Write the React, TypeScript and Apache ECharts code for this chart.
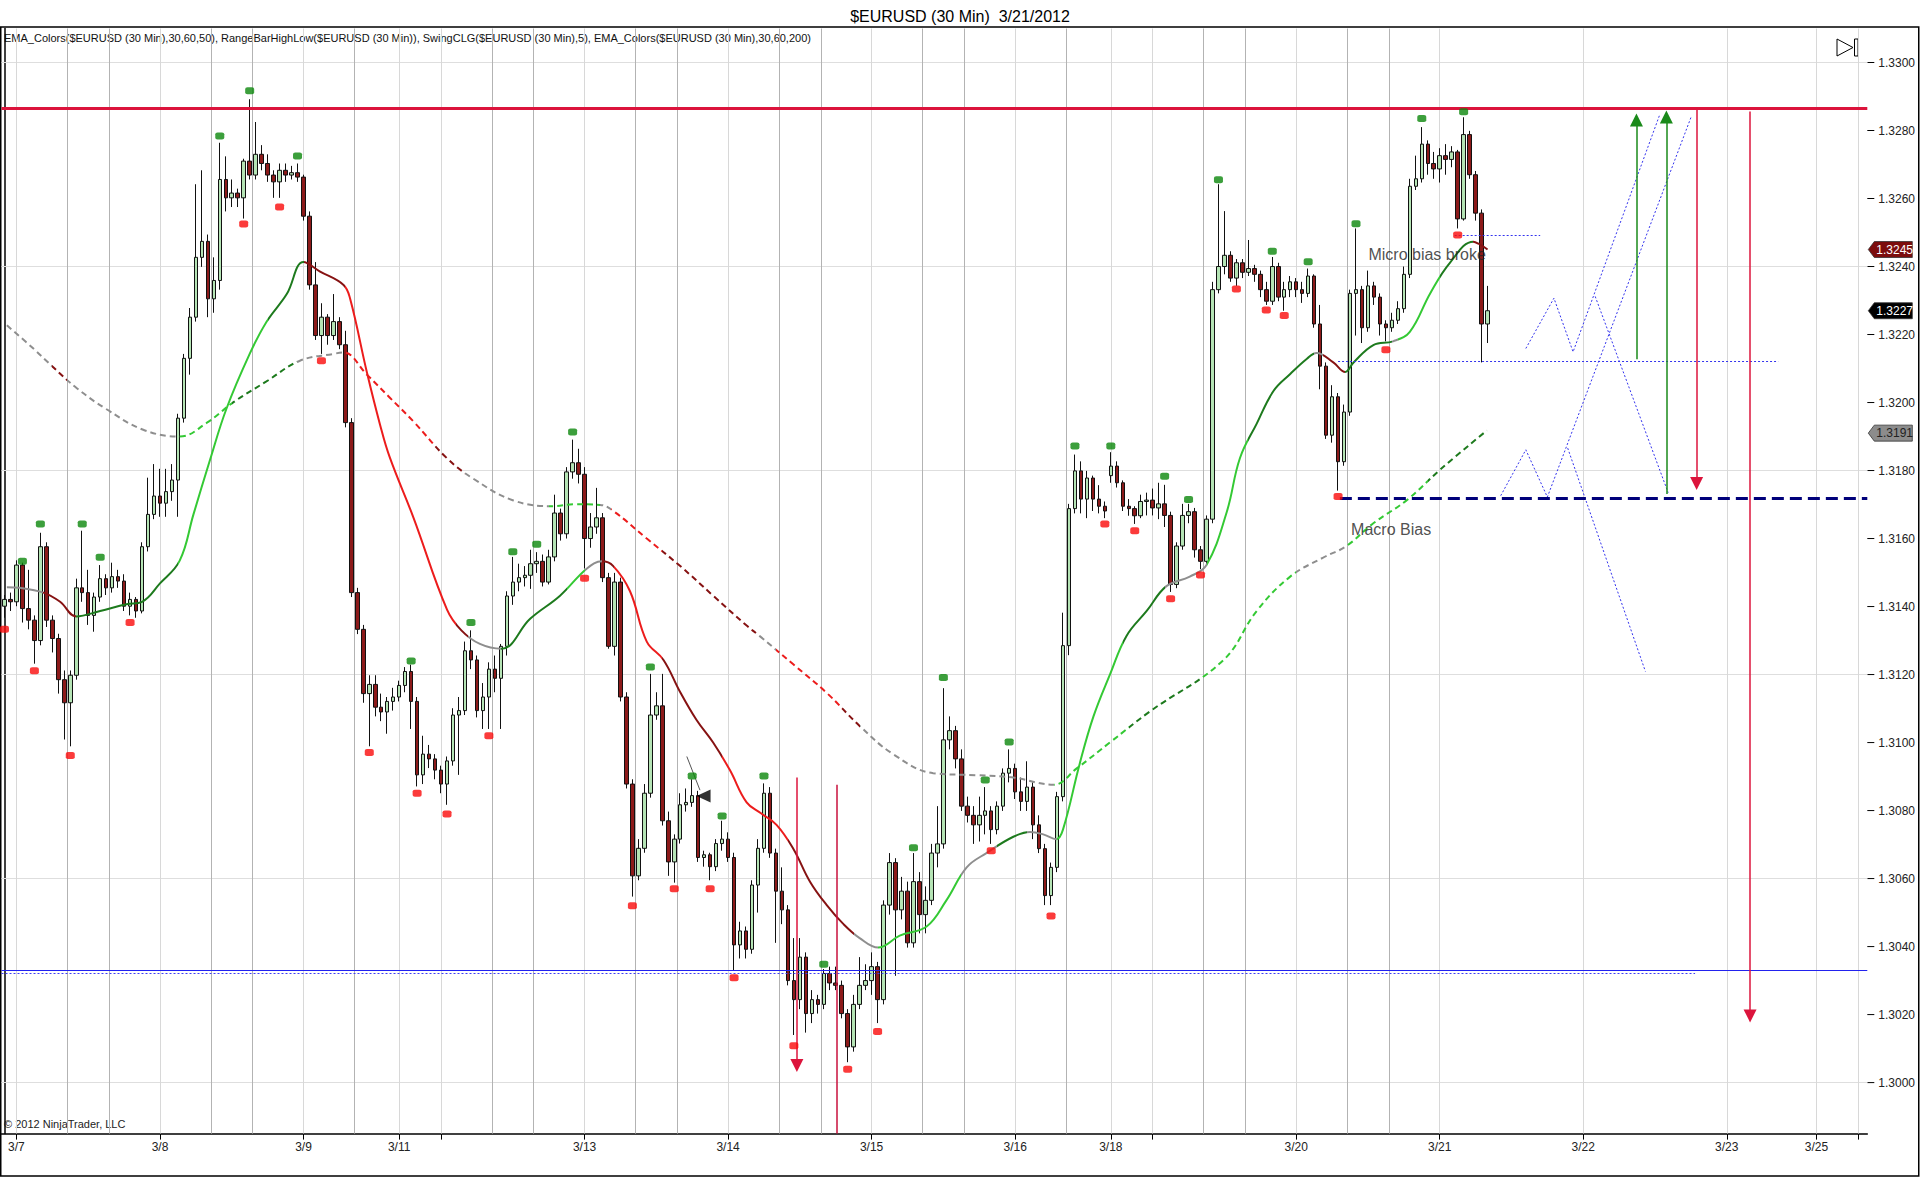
import React, { useEffect, useRef } from 'react';
import * as echarts from 'echarts';

const FONT = '"Liberation Sans", Arial, sans-serif';

// one slot per hour, 3/6 22:00 up to the empty future area on the right
const SLOT_COUNT = 312;

// [slot, label] for the day ticks on the time axis
const dayTicks: [number, string][] = [
  [2, '3/7'], [26, '3/8'], [50, '3/9'], [66, '3/11'], [73, ''], [97, '3/13'], [121, '3/14'],
  [145, '3/15'], [169, '3/16'], [185, '3/18'], [192, ''], [216, '3/20'], [240, '3/21'],
  [264, '3/22'], [288, '3/23'], [303, '3/25'], [310, ''],
];
// session separators inside each trading day
const sessionGrid = [10.5, 17.5, 34.5, 41.5, 58.5, 81.5, 88.5, 105.5, 112.5, 129.5, 136.5, 153.5, 160.5, 177.5, 200.5, 207.5, 224.5, 231.5];

const priceLabels = [1.3, 1.302, 1.304, 1.306, 1.308, 1.31, 1.312, 1.314, 1.316, 1.318, 1.32, 1.322, 1.324, 1.326, 1.328, 1.33];
const priceGrid = [1.3, 1.306, 1.312, 1.318, 1.324, 1.33];

// hourly bars: [open, close, low, high]
const candles = [
  [1.31401, 1.31421, 1.31367, 1.31434], [1.31421, 1.31414, 1.31387, 1.31441], [1.31414, 1.31522, 1.31401, 1.31536],
  [1.31522, 1.31394, 1.31353, 1.31529], [1.31394, 1.3136, 1.31333, 1.31508], [1.3136, 1.313, 1.31232, 1.31374],
  [1.313, 1.31576, 1.31286, 1.31617], [1.31576, 1.3136, 1.3134, 1.31589], [1.3136, 1.31306, 1.31265, 1.31374],
  [1.31306, 1.31185, 1.31144, 1.3132], [1.31185, 1.31117, 1.31009, 1.31212], [1.31117, 1.31198, 1.30989, 1.31212],
  [1.31198, 1.31455, 1.31185, 1.31482], [1.31455, 1.31441, 1.31414, 1.31623], [1.31441, 1.31374, 1.31346, 1.31508],
  [1.31374, 1.31428, 1.31326, 1.31441], [1.31428, 1.31482, 1.31414, 1.31522], [1.31482, 1.31455, 1.31434, 1.31495],
  [1.31455, 1.31488, 1.31441, 1.31529], [1.31488, 1.31475, 1.31455, 1.31508], [1.31475, 1.31401, 1.31387, 1.31495],
  [1.31401, 1.31421, 1.31374, 1.31441], [1.31421, 1.31387, 1.31367, 1.31428], [1.31387, 1.31576, 1.3138, 1.31589],
  [1.31576, 1.31671, 1.31562, 1.31779], [1.31671, 1.31725, 1.31657, 1.31819], [1.31725, 1.31704, 1.31664, 1.31805],
  [1.31704, 1.31738, 1.31664, 1.31805], [1.31738, 1.31772, 1.31711, 1.31819], [1.31772, 1.31954, 1.31664, 1.31967],
  [1.31954, 1.3213, 1.31941, 1.32143], [1.3213, 1.32251, 1.32082, 1.32278], [1.32251, 1.32427, 1.32238, 1.32642],
  [1.32427, 1.32474, 1.32399, 1.32683], [1.32474, 1.32305, 1.32251, 1.32494], [1.32305, 1.32359, 1.32264, 1.32427],
  [1.32359, 1.32656, 1.32332, 1.32764], [1.32656, 1.32602, 1.32562, 1.32724], [1.32602, 1.32616, 1.32575, 1.32656],
  [1.32616, 1.32602, 1.32575, 1.32629], [1.32602, 1.3271, 1.32541, 1.32717], [1.3271, 1.32669, 1.32656, 1.32892],
  [1.32669, 1.3273, 1.32656, 1.32825], [1.3273, 1.32703, 1.32683, 1.32757], [1.32703, 1.32669, 1.32649, 1.3273],
  [1.32669, 1.32649, 1.32602, 1.32683], [1.32649, 1.32683, 1.32602, 1.32703], [1.32683, 1.32669, 1.32649, 1.32703],
  [1.32669, 1.32676, 1.32656, 1.32696], [1.32676, 1.32663, 1.32649, 1.32703], [1.32663, 1.32548, 1.32535, 1.3267],
  [1.32548, 1.32346, 1.32332, 1.32562], [1.32346, 1.32197, 1.32184, 1.32413], [1.32197, 1.32251, 1.32143, 1.32292],
  [1.32251, 1.32197, 1.3217, 1.3226], [1.32197, 1.32238, 1.32184, 1.32319], [1.32238, 1.3217, 1.32157, 1.32251],
  [1.3217, 1.31941, 1.31927, 1.32211], [1.31941, 1.31441, 1.31428, 1.31954], [1.31441, 1.31333, 1.31319, 1.31455],
  [1.31333, 1.31144, 1.31117, 1.31346], [1.31144, 1.31171, 1.30989, 1.31198], [1.31171, 1.31104, 1.31077, 1.31198],
  [1.31104, 1.3109, 1.31063, 1.31144], [1.3109, 1.31121, 1.31026, 1.31134], [1.31121, 1.31134, 1.31094, 1.31161],
  [1.31134, 1.31168, 1.31121, 1.31182], [1.31168, 1.31209, 1.31148, 1.31222], [1.31209, 1.31121, 1.3104, 1.31229],
  [1.31121, 1.30905, 1.30871, 1.31134], [1.30905, 1.30966, 1.30878, 1.3102], [1.30966, 1.30952, 1.30925, 1.30993],
  [1.30952, 1.30919, 1.30892, 1.30966], [1.30919, 1.30878, 1.30851, 1.30932], [1.30878, 1.30946, 1.30817, 1.30959],
  [1.30946, 1.31081, 1.30932, 1.31101], [1.31081, 1.31094, 1.30905, 1.31134], [1.31094, 1.3127, 1.31081, 1.31297],
  [1.3127, 1.31243, 1.31216, 1.3133], [1.31243, 1.31094, 1.31074, 1.31256], [1.31094, 1.31134, 1.3104, 1.31175],
  [1.31134, 1.31216, 1.3104, 1.31236], [1.31216, 1.31189, 1.31148, 1.31256], [1.31189, 1.31283, 1.3104, 1.3129],
  [1.31283, 1.31431, 1.31256, 1.31445], [1.31431, 1.31472, 1.31405, 1.31546], [1.31472, 1.31485, 1.31445, 1.31526],
  [1.31485, 1.31492, 1.31459, 1.31519], [1.31492, 1.31526, 1.31452, 1.31567], [1.31526, 1.31533, 1.31499, 1.3156],
  [1.31533, 1.31472, 1.31459, 1.31553], [1.31472, 1.31546, 1.31465, 1.31567], [1.31546, 1.31675, 1.31533, 1.31729],
  [1.31675, 1.31614, 1.31594, 1.31688], [1.31614, 1.31796, 1.316, 1.3181], [1.31796, 1.31823, 1.31776, 1.31891],
  [1.31823, 1.31789, 1.31762, 1.31864], [1.31789, 1.316, 1.31512, 1.3181], [1.316, 1.31634, 1.31573, 1.31675],
  [1.31634, 1.31661, 1.31614, 1.31749], [1.31661, 1.31485, 1.31472, 1.31675], [1.31485, 1.31283, 1.31276, 1.31499],
  [1.31283, 1.31472, 1.31256, 1.31499], [1.31472, 1.31134, 1.31121, 1.31485], [1.31134, 1.30878, 1.30865, 1.31148],
  [1.30878, 1.30608, 1.30547, 1.30892], [1.30608, 1.30689, 1.30595, 1.30716], [1.30689, 1.30851, 1.30676, 1.30878],
  [1.30851, 1.31081, 1.30838, 1.31202], [1.31081, 1.31108, 1.31067, 1.31148], [1.31108, 1.3077, 1.30756, 1.31202],
  [1.3077, 1.30649, 1.30608, 1.30797], [1.30649, 1.30716, 1.30588, 1.3073], [1.30716, 1.30817, 1.30703, 1.30851],
  [1.30817, 1.30824, 1.30797, 1.30865], [1.30824, 1.30844, 1.30811, 1.30892], [1.30844, 1.30662, 1.30649, 1.30858],
  [1.30662, 1.3067, 1.30635, 1.30682], [1.3067, 1.30635, 1.30595, 1.30676], [1.30635, 1.30703, 1.30622, 1.30716],
  [1.30703, 1.30716, 1.30682, 1.3077], [1.30716, 1.30662, 1.30649, 1.30736], [1.30662, 1.30405, 1.30331, 1.30676],
  [1.30405, 1.30446, 1.30365, 1.30473], [1.30446, 1.30392, 1.30365, 1.30459], [1.30392, 1.30581, 1.30379, 1.30595],
  [1.30581, 1.30689, 1.305, 1.30716], [1.30689, 1.30851, 1.30676, 1.3088], [1.30851, 1.30675, 1.30661, 1.30869],
  [1.30675, 1.30563, 1.30411, 1.30688], [1.30563, 1.30508, 1.30466, 1.30633], [1.30508, 1.303, 1.30286, 1.30522],
  [1.303, 1.30244, 1.3014, 1.30425], [1.30244, 1.30369, 1.30216, 1.30425], [1.30369, 1.30203, 1.30147, 1.30383],
  [1.30203, 1.30244, 1.30175, 1.30272], [1.30244, 1.3023, 1.30203, 1.30258], [1.3023, 1.30321, 1.30216, 1.30334],
  [1.30321, 1.30293, 1.30272, 1.30341], [1.30293, 1.30286, 1.30272, 1.30341], [1.30286, 1.30203, 1.30189, 1.303],
  [1.30203, 1.30105, 1.3006, 1.30216], [1.30105, 1.3023, 1.30091, 1.30258], [1.3023, 1.30286, 1.30216, 1.30369],
  [1.30286, 1.303, 1.30272, 1.30348], [1.303, 1.30341, 1.30258, 1.30383], [1.30341, 1.30244, 1.30175, 1.30355],
  [1.30244, 1.30522, 1.3023, 1.30536], [1.30522, 1.30647, 1.30494, 1.30675], [1.30647, 1.30508, 1.30314, 1.3066],
  [1.30508, 1.30563, 1.3048, 1.30605], [1.30563, 1.30411, 1.30397, 1.30591], [1.30411, 1.30591, 1.30397, 1.30675],
  [1.30591, 1.30494, 1.30439, 1.30619], [1.30494, 1.30536, 1.30439, 1.30577], [1.30536, 1.30675, 1.30522, 1.30702],
  [1.30675, 1.30702, 1.30633, 1.30813], [1.30702, 1.31008, 1.30688, 1.3116], [1.31008, 1.31035, 1.3098, 1.31077],
  [1.31035, 1.30952, 1.30924, 1.31049], [1.30952, 1.30813, 1.30799, 1.3098], [1.30813, 1.30786, 1.30765, 1.30841],
  [1.30786, 1.30758, 1.30702, 1.30813], [1.30758, 1.30786, 1.30709, 1.30841], [1.30786, 1.30799, 1.3073, 1.30869],
  [1.30799, 1.30744, 1.30702, 1.30813], [1.30744, 1.30813, 1.3073, 1.30827], [1.30813, 1.3091, 1.30799, 1.30924],
  [1.3091, 1.30924, 1.30883, 1.3098], [1.30924, 1.30855, 1.30834, 1.30938], [1.30855, 1.30827, 1.30799, 1.30897],
  [1.30827, 1.30869, 1.30799, 1.30945], [1.30869, 1.30758, 1.30716, 1.30883], [1.30758, 1.30688, 1.30675, 1.30786],
  [1.30688, 1.3055, 1.30522, 1.30702], [1.3055, 1.30633, 1.30522, 1.30647], [1.30633, 1.30841, 1.30619, 1.30855],
  [1.30841, 1.31285, 1.30827, 1.31382], [1.31285, 1.31688, 1.31257, 1.31702], [1.31688, 1.31799, 1.31674, 1.31847],
  [1.31799, 1.31716, 1.31674, 1.31827], [1.31716, 1.31778, 1.3166, 1.31799], [1.31778, 1.31716, 1.31681, 1.31785],
  [1.31716, 1.31695, 1.31674, 1.31757], [1.31695, 1.31681, 1.3166, 1.31709], [1.31785, 1.31813, 1.31764, 1.31854],
  [1.31813, 1.31764, 1.3175, 1.31827], [1.31764, 1.31695, 1.31681, 1.31771], [1.31695, 1.31688, 1.31667, 1.31716],
  [1.31688, 1.31667, 1.31643, 1.31695], [1.31667, 1.31709, 1.3166, 1.31729], [1.31709, 1.31713, 1.31668, 1.31735],
  [1.31713, 1.3169, 1.31668, 1.31747], [1.3169, 1.31702, 1.31657, 1.31764], [1.31702, 1.31668, 1.31634, 1.31758],
  [1.31668, 1.31465, 1.31443, 1.31679], [1.31465, 1.31578, 1.31454, 1.31589], [1.31578, 1.31668, 1.31567, 1.31702],
  [1.31668, 1.31679, 1.31645, 1.31702], [1.31679, 1.31567, 1.31544, 1.3169], [1.31567, 1.31533, 1.3151, 1.31578],
  [1.31533, 1.31657, 1.31522, 1.31668], [1.31657, 1.32332, 1.31645, 1.32355], [1.32332, 1.324, 1.32321, 1.32642],
  [1.324, 1.32433, 1.32377, 1.32563], [1.32433, 1.32366, 1.32355, 1.32445], [1.32366, 1.32411, 1.32343, 1.32422],
  [1.32411, 1.32383, 1.32366, 1.32422], [1.32383, 1.32394, 1.32372, 1.32478], [1.32394, 1.32377, 1.32355, 1.32405],
  [1.32377, 1.32332, 1.3231, 1.32388], [1.32332, 1.32298, 1.32287, 1.32355], [1.32298, 1.324, 1.32287, 1.32428],
  [1.324, 1.3231, 1.32298, 1.32411], [1.3231, 1.32332, 1.3227, 1.32355], [1.32332, 1.32355, 1.3231, 1.32372],
  [1.32355, 1.32332, 1.3231, 1.32366], [1.32332, 1.32321, 1.32293, 1.32355], [1.32321, 1.32372, 1.3231, 1.32394],
  [1.32372, 1.32231, 1.3222, 1.32377], [1.32231, 1.32107, 1.32039, 1.32287], [1.32107, 1.31904, 1.31893, 1.32118],
  [1.31904, 1.32017, 1.31882, 1.32051], [1.32017, 1.31826, 1.31741, 1.32028], [1.31826, 1.31972, 1.31814, 1.31994],
  [1.31972, 1.32321, 1.31961, 1.32332], [1.32321, 1.32332, 1.32197, 1.32512], [1.32332, 1.3222, 1.32175, 1.32343],
  [1.3222, 1.32343, 1.32208, 1.32388], [1.32343, 1.3231, 1.32287, 1.32355], [1.3231, 1.32231, 1.32197, 1.32321],
  [1.32231, 1.3222, 1.3218, 1.32242], [1.3222, 1.32242, 1.32208, 1.32264], [1.32242, 1.32276, 1.32231, 1.32298],
  [1.32276, 1.32377, 1.32264, 1.324], [1.32377, 1.32636, 1.32366, 1.32658], [1.32636, 1.32658, 1.32625, 1.32726],
  [1.32658, 1.3276, 1.32647, 1.3281], [1.3276, 1.32703, 1.3267, 1.32771], [1.32703, 1.32687, 1.32658, 1.32737],
  [1.32687, 1.32726, 1.32647, 1.32748], [1.32726, 1.32715, 1.3267, 1.3276], [1.32715, 1.32737, 1.32692, 1.32754],
  [1.32737, 1.3254, 1.32512, 1.32743], [1.3254, 1.32788, 1.32535, 1.32839], [1.32788, 1.3267, 1.32658, 1.32799],
  [1.3267, 1.32557, 1.32535, 1.32681], [1.32557, 1.32231, 1.32118, 1.32568], [1.32231, 1.3227, 1.32175, 1.32343],
];

// EMA(50) and EMA(200): [slot, price]
const ema50 = [
  [0.4, 1.31457], [2.6, 1.31455], [6.5, 1.31441], [9.3, 1.31414], [12, 1.31371], [16, 1.31387], [20.4, 1.31407],
  [23, 1.31414], [26, 1.31468], [29.3, 1.31535], [31.6, 1.31671], [34.4, 1.31833], [37.1, 1.31981], [41, 1.32143],
  [43.8, 1.32237], [47.2, 1.32319], [50, 1.32413], [52.7, 1.32386], [56.7, 1.32346], [57.8, 1.32305], [60.6, 1.32089],
  [62.8, 1.31935], [64.4, 1.3184], [68.4, 1.31661], [74, 1.31391], [76.4, 1.3133], [79.5, 1.3129], [83.1, 1.31276],
  [87.9, 1.31364], [92.9, 1.31432], [97.4, 1.31512], [99.9, 1.31533], [101.8, 1.31519], [104.6, 1.31445],
  [107.4, 1.31297], [110.2, 1.31243], [113, 1.31148], [115.7, 1.31067], [118.5, 1.31], [121.3, 1.30919],
  [124.1, 1.30824], [126.5, 1.30792], [129.1, 1.30758], [131.9, 1.30688], [134.7, 1.30591], [137.5, 1.30522],
  [140.3, 1.30466], [143, 1.30425], [146.1, 1.30397], [149.7, 1.30432], [154.2, 1.30459], [157.5, 1.30536],
  [160.9, 1.30633], [164.2, 1.30675], [168.7, 1.30723], [171.5, 1.30737], [173.7, 1.3073], [175.9, 1.30716],
  [177, 1.30744], [179.8, 1.30938], [182.1, 1.31077], [184.9, 1.31202], [187.6, 1.31313], [191, 1.31387],
  [194.3, 1.3146], [198.2, 1.31488], [201, 1.31522], [204.4, 1.31679], [206.6, 1.31837], [209.4, 1.31938],
  [212.2, 1.32034], [215, 1.32084], [217.8, 1.32129], [219.4, 1.32146], [222.2, 1.32118], [224.2, 1.3209],
  [225.6, 1.32118], [228.9, 1.32169], [232.2, 1.3218], [235, 1.32208], [238.4, 1.32321], [241.7, 1.32411],
  [245.6, 1.32473], [246.5, 1.32467], [248, 1.3245],
];
const ema200 = [
  [0.4, 1.32227], [5, 1.32156], [8.2, 1.32103], [12.1, 1.32042], [17, 1.31981], [23.2, 1.3192], [29.3, 1.319],
  [33.8, 1.3194], [38.3, 1.32001], [43.8, 1.32062], [49.4, 1.32123], [55, 1.32143], [56.7, 1.32147], [60.6, 1.32082],
  [64.4, 1.32015], [68.4, 1.31944], [74, 1.31836], [78.4, 1.31776], [85.1, 1.31712], [91.8, 1.31695], [95.1, 1.31701],
  [99.6, 1.31699], [101.8, 1.31681], [107.4, 1.316], [113, 1.31519], [118.5, 1.31432], [124.1, 1.31344],
  [126.3, 1.31313], [131.9, 1.3123], [137.5, 1.31146], [143, 1.31049], [148.6, 1.30966], [155.3, 1.3091],
  [162.6, 1.30904], [168.7, 1.30897], [175.4, 1.30876], [179.3, 1.30924], [184.9, 1.31001], [191.5, 1.31091],
  [203.8, 1.31242], [209.4, 1.31387], [215, 1.31488], [220.5, 1.31544], [224.4, 1.31578], [228.9, 1.31645],
  [234.5, 1.31713], [240.1, 1.31803], [247.9, 1.31918],
];

const LIME = '#34c934';
const DKGREEN = '#1d7a1d';
const GRAY = '#8e8e8e';
const DKRED = '#861212';
const RED = '#ec1c1c';

// colour of each EMA stretch: [from slot, colour]
const ema50Colors: [number, string][] = [
  [-5, GRAY], [6.5, DKRED], [12, DKGREEN], [29, LIME], [44, DKGREEN], [50, DKRED], [57, RED], [75.5, DKRED],
  [77.5, GRAY], [83, DKGREEN], [94, LIME], [97, GRAY], [100, DKRED], [102, RED], [110, DKRED], [120, RED],
  [131, DKRED], [142, GRAY], [146, LIME], [160, GRAY], [166, DKGREEN], [171, GRAY], [176, LIME], [187, DKGREEN],
  [194, GRAY], [201, LIME], [208, DKGREEN], [219, GRAY], [220.5, DKRED], [224.2, DKGREEN], [232, GRAY],
  [233, LIME], [240, DKGREEN], [245.6, DKRED],
];
const ema200Colors: [number, string][] = [
  [-5, GRAY], [8, DKRED], [10.5, GRAY], [29, LIME], [38, DKGREEN], [49, GRAY], [56.5, RED], [72, DKRED],
  [77, GRAY], [91, LIME], [99.5, GRAY], [101.5, RED], [110, DKRED], [126, GRAY], [129, RED], [140, DKRED],
  [143, GRAY], [175.5, LIME], [188, DKGREEN], [200, LIME], [216, GRAY], [224.4, LIME], [238, DKGREEN],
];

// SwingCLG dots: [slot, price]
const swingHighs = [
  [3, 1.31533], [6, 1.31643], [13, 1.31643], [16, 1.31545], [36, 1.32784], [41, 1.32917], [49, 1.32725],
  [68, 1.3124], [78, 1.31353], [85, 1.31561], [89, 1.31583], [95, 1.31913], [108, 1.31222], [115, 1.30902],
  [120, 1.30784], [127, 1.30902], [137, 1.30348], [152, 1.30691], [157, 1.31191], [164, 1.3089], [168, 1.31002],
  [179, 1.31872], [185, 1.31872], [194, 1.31783], [198, 1.31715], [203, 1.32655], [212, 1.32445], [218, 1.32414],
  [226, 1.32526], [237, 1.32835], [244, 1.32855],
];
const swingLows = [
  [0, 1.31333], [5, 1.31211], [11, 1.30962], [21, 1.31353], [40, 1.32525], [46, 1.32575], [53, 1.32123],
  [61, 1.30971], [69, 1.30851], [74, 1.3079], [81, 1.3102], [97, 1.31483], [105, 1.3052], [112, 1.3057],
  [118, 1.3057], [122, 1.30308], [132, 1.30108], [141, 1.30039], [146, 1.3015], [165, 1.30682], [175, 1.3049],
  [184, 1.31643], [189, 1.31623], [195, 1.31423], [200, 1.31493], [206, 1.32334], [211, 1.32272], [214, 1.32256],
  [223, 1.31724], [231, 1.32155], [243, 1.32493],
];

// drawn levels and objects
const resistance = 1.32865;
const supportLine = 1.3033;
const supportDotted: [number, number, number] = [-0.5, 282.7, 1.30323];
const macroBias: [number, number, number] = [223.3, 311.5, 1.31719];
const microLevel: [number, number, number] = [223, 296.6, 1.3212];
const microBreak: [number, number, number] = [242.5, 256.8, 1.32493];
// [slot, from price, to price]
const greenArrows = [[272.9, 1.32127, 1.32831], [277.9, 1.31731, 1.3284]];
const redArrows = [[282.96, 1.32865, 1.31762], [291.9, 1.32856, 1.30196], [132.5, 1.30897, 1.3005]];
const redLines = [[139.2, 1.30876, 1.2985]];
const pointerLine = [[114.1, 1.30959], [116.3, 1.3086]];
const pointerHead = [116.9, 1.30843];
const zigzags = [
  [[254.4, 1.32159], [259.1, 1.32307], [262.3, 1.32149], [276.8, 1.32847]],
  [[266.0, 1.32312], [278.2, 1.31735]],
  [[250.2, 1.31726], [254.4, 1.31861], [258.0, 1.31722], [282.0, 1.32838]],
  [[261.4, 1.31866], [274.4, 1.31209]],
];
const notes: [number, number, string][] = [
  [228.0, 1.32436, 'Micro bias broke'],
  [225.1, 1.31626, 'Macro Bias'],
];
// last values shown on the price axis: [price, fill, text colour]
const priceTags: [number, string, string][] = [
  [1.3245, '#7c0d0d', '#ffffff'],
  [1.3227, '#000000', '#ffffff'],
  [1.3191, '#8c8c8c', '#222222'],
];

const indicatorText = 'EMA_Colors($EURUSD (30 Min),30,60,50), RangeBarHighLow($EURUSD (30 Min)), SwingCLG($EURUSD (30 Min),5), EMA_Colors($EURUSD (30 Min),30,60,200)';

const toPieces = (breaks: [number, string][]) =>
  breaks.map(([from, color], i) => ({ gte: from, lt: i + 1 < breaks.length ? breaks[i + 1][0] : 1000, color }));

const App = () => {
  const chartRef = useRef<HTMLDivElement>(null);

  useEffect(() => {
    if (!chartRef.current) return;
    const chart = echarts.init(chartRef.current, null, { renderer: 'svg' });

    const slots = Array.from({ length: SLOT_COUNT }, (_, i) => 's' + i);
    const tickSet = new Set(dayTicks.map((d) => d[0]));
    const labelOf: Record<number, string> = {};
    dayTicks.forEach(([s, l]) => { labelOf[s] = l; });

    const seg = (a: number, b: number, y: number, lineStyle: any) => [
      { coord: [a, y], lineStyle },
      { coord: [b, y] },
    ];
    const arrow = (k: number, y0: number, y1: number, color: string) => [
      { coord: [k, y0], symbol: 'none', lineStyle: { color, width: 1.5, type: 'solid' } },
      { coord: [k, y1], symbol: 'triangle', symbolSize: 13 },
    ];

    const option: any = {
      animation: false,
      backgroundColor: '#ffffff',
      textStyle: { fontFamily: FONT },
      title: {
        text: '$EURUSD (30 Min)  3/21/2012',
        left: 'center',
        top: 3,
        textStyle: { fontSize: 16, fontWeight: 'normal', color: '#000', fontFamily: FONT },
      },
      grid: { left: 1.5, right: 52.7, top: 28.5, bottom: 43.4, outerBoundsMode: 'none' },
      xAxis: [
        {
          type: 'category',
          data: slots,
          boundaryGap: true,
          axisLine: { lineStyle: { color: '#000', width: 1.5 } },
          axisTick: {
            show: true,
            alignWithLabel: true,
            length: 6,
            interval: (i: number) => tickSet.has(i),
            lineStyle: { color: '#000' },
          },
          axisLabel: {
            interval: (i: number) => tickSet.has(i),
            formatter: (_v: string, i: number) => labelOf[i] || '',
            margin: 7,
            fontSize: 12,
            color: '#222',
            fontFamily: FONT,
          },
          splitLine: { show: false },
        },
        { type: 'value', min: -0.5, max: SLOT_COUNT - 0.5, show: false, splitLine: { show: false } },
      ],
      yAxis: {
        type: 'value',
        position: 'right',
        min: 1.2985,
        max: 1.331,
        interval: 0.0005,
        axisLine: { show: true, lineStyle: { color: '#000', width: 1.5 } },
        axisTick: { show: false },
        splitLine: { show: false },
        axisLabel: {
          margin: 11,
          fontSize: 12,
          color: '#222',
          fontFamily: FONT,
          formatter: (v: number) => (priceLabels.some((p) => Math.abs(p - v) < 1e-7) ? v.toFixed(4) : ''),
        },
      },
      visualMap: [
        { type: 'piecewise', show: false, dimension: 0, seriesIndex: 2, pieces: toPieces(ema50Colors), outOfRange: { color: GRAY } },
        { type: 'piecewise', show: false, dimension: 0, seriesIndex: 3, pieces: toPieces(ema200Colors), outOfRange: { color: GRAY } },
      ],
      series: [
        {
          // chart grid
          type: 'line',
          xAxisIndex: 1,
          data: [],
          silent: true,
          markLine: {
            silent: true,
            z: 1,
            precision: 6,
            symbol: ['none', 'none'],
            label: { show: false },
            data: [
              ...priceGrid.map((v) => ({ yAxis: v, lineStyle: { color: '#dedede', width: 1, type: 'solid' } })),
              ...dayTicks.map((d) => ({ xAxis: d[0], lineStyle: { color: '#d8d8d8', width: 1, type: 'solid' } })),
              ...sessionGrid.map((k) => ({ xAxis: k, lineStyle: { color: '#b3b3b3', width: 1, type: 'solid' } })),
            ],
          },
        },
        {
          type: 'candlestick',
          xAxisIndex: 0,
          yAxisIndex: 0,
          data: candles,
          barWidth: 4,
          itemStyle: {
            color: '#b5e4b5',
            color0: '#8c1a1a',
            borderColor: '#111',
            borderColor0: '#111',
            borderWidth: 1,
          },
        },
        {
          type: 'line',
          xAxisIndex: 1,
          data: ema50,
          smooth: 0.4,
          showSymbol: false,
          symbol: 'none',
          lineStyle: { width: 2 },
        },
        {
          type: 'line',
          xAxisIndex: 1,
          data: ema200,
          smooth: 0.4,
          showSymbol: false,
          symbol: 'none',
          lineStyle: { width: 2, type: [6, 4] },
        },
        ...zigzags.map((path) => ({
          type: 'line',
          xAxisIndex: 1,
          data: path,
          showSymbol: false,
          symbol: 'none',
          lineStyle: { color: '#3434ee', width: 1, type: [2, 2] },
          z: 4,
        })),
        {
          type: 'scatter',
          xAxisIndex: 1,
          data: swingHighs,
          symbol: 'roundRect',
          symbolSize: [9, 7],
          itemStyle: { color: '#0b870b' },
          z: 6,
        },
        {
          type: 'scatter',
          xAxisIndex: 1,
          data: swingLows,
          symbol: 'roundRect',
          symbolSize: [9, 7],
          itemStyle: { color: '#fa0a0a' },
          z: 6,
        },
        {
          type: 'scatter',
          xAxisIndex: 1,
          data: [pointerHead],
          symbol: 'triangle',
          symbolRotate: 90,
          symbolSize: [13, 14],
          itemStyle: { color: '#000' },
          z: 6,
        },
        {
          type: 'scatter',
          xAxisIndex: 1,
          data: notes.map(([k, y, text]) => ({ value: [k, y], name: text })),
          symbolSize: 1,
          itemStyle: { color: 'rgba(0,0,0,0)' },
          label: {
            show: true,
            position: 'right',
            distance: 0,
            formatter: '{b}',
            fontSize: 16,
            color: '#222',
            fontFamily: FONT,
          },
          z: 7,
        },
        {
          // drawing objects
          type: 'line',
          xAxisIndex: 1,
          data: [],
          silent: true,
          markLine: {
            silent: true,
            z: 5,
            precision: 6,
            symbol: ['none', 'none'],
            label: { show: false },
            data: [
              { yAxis: resistance, lineStyle: { color: '#dc143c', width: 3, type: 'solid' } },
              { yAxis: supportLine, lineStyle: { color: '#2222ee', width: 1, type: 'solid' } },
              seg(supportDotted[0], supportDotted[1], supportDotted[2], { color: '#3c3cf5', width: 1, type: [2, 2] }),
              seg(macroBias[0], macroBias[1], macroBias[2], { color: '#00007a', width: 3, type: [12, 6] }),
              seg(microLevel[0], microLevel[1], microLevel[2], { color: '#3434ee', width: 1, type: [2, 2] }),
              seg(microBreak[0], microBreak[1], microBreak[2], { color: '#3434ee', width: 1, type: [2, 2] }),
              ...greenArrows.map(([k, a, b]) => arrow(k, a, b, '#1a8a1a')),
              ...redArrows.map(([k, a, b]) => arrow(k, a, b, '#dc143c')),
              ...redLines.map(([k, a, b]) => [
                { coord: [k, a], lineStyle: { color: '#c8103c', width: 1.5, type: 'solid' } },
                { coord: [k, b] },
              ]),
              [
                { coord: pointerLine[0], lineStyle: { color: '#555', width: 1, type: 'solid' } },
                { coord: pointerLine[1] },
              ],
            ],
          },
        },
      ],
    };

    chart.setOption(option);

    // axis decorations placed through the chart's own scales
    const axisX = chart.convertToPixel({ xAxisIndex: 1 }, SLOT_COUNT - 0.5) as number;
    const py = (v: number) => chart.convertToPixel({ yAxisIndex: 0 }, v) as number;
    const graphic: any[] = [
      {
        type: 'rect',
        shape: { x: 0.75, y: 27, width: 1918, height: 1149 },
        style: { fill: 'none', stroke: '#000', lineWidth: 1.5 },
        silent: true,
      },
      {
        type: 'text',
        x: 4,
        y: 38,
        style: { text: indicatorText, fill: '#111', font: `11px ${FONT}`, verticalAlign: 'middle' },
      },
      {
        type: 'text',
        x: 4,
        y: 1124,
        style: { text: '\u00a9 2012 NinjaTrader, LLC', fill: '#222', font: `11px ${FONT}`, verticalAlign: 'middle' },
      },
      {
        type: 'polygon',
        shape: { points: [[1837, 39], [1853, 47.5], [1837, 56]] },
        style: { fill: '#fff', stroke: '#000', lineWidth: 1 },
      },
      {
        type: 'rect',
        shape: { x: 1854.5, y: 39, width: 3.5, height: 17 },
        style: { fill: '#fff', stroke: '#000', lineWidth: 1 },
      },
      ...priceLabels.map((v) => ({
        type: 'line',
        shape: { x1: axisX, y1: py(v), x2: axisX + 7, y2: py(v) },
        style: { stroke: '#000', lineWidth: 1 },
      })),
      ...priceTags.flatMap(([v, fill, color]) => {
        const y = py(v);
        return [
          {
            type: 'polygon',
            shape: { points: [[axisX + 1, y], [axisX + 7, y - 8], [axisX + 45, y - 8], [axisX + 45, y + 8], [axisX + 7, y + 8]] },
            style: { fill, stroke: '#333', lineWidth: 0.8 },
            z: 10,
          },
          {
            type: 'text',
            x: axisX + 9,
            y,
            style: { text: v.toFixed(4), fill: color, font: `12px ${FONT}`, verticalAlign: 'middle' },
            z: 11,
          },
        ];
      }),
    ];
    chart.setOption({ graphic });

    return () => {
      chart.dispose();
    };
  }, []);

  return (
    <div
      ref={chartRef}
      style={{ position: 'absolute', left: 0, top: 0, width: 1920, height: 1177, background: '#fff' }}
    />
  );
};

export default App;
